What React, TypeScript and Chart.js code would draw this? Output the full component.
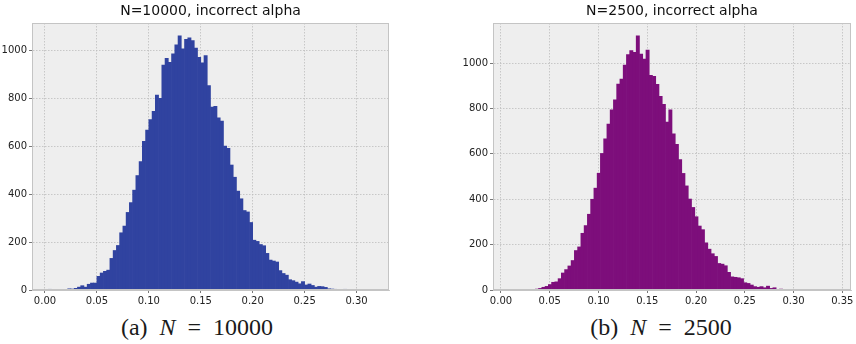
import React, { useEffect, useRef } from "react";
import { Chart, registerables } from "chart.js";

Chart.register(...registerables);

// ---- Data: histogram (a) N=10000 ----
const titleA = "N=10000, incorrect alpha";
const binStartA = 0.003125;
const binWidthA = 0.003125;
const countsA = [
  3, 0, 0, 0, 0, 1, 5, 4, 7, 12, 18, 12, 24, 29, 29,
  57, 71, 78, 83, 132, 165, 186, 239, 267, 324, 365, 417, 478, 536, 621,
  668, 712, 746, 814, 800, 939, 968, 951, 986, 1024, 1062, 1007, 1047, 1053, 1042,
  1010, 972, 949, 979, 854, 764, 767, 719, 705, 601, 592, 522, 471, 413, 381, 332, 326, 282,
  208, 203, 190, 185, 153, 125, 121, 117, 81, 69, 62, 43, 39, 33, 26, 35, 21, 25, 19, 12,
  15, 14, 11, 5, 4, 3, 1, 0, 3, 0, 0, 0, 0, 0, 0, 0, 1,
];
const xTicksA = [0, 0.05, 0.1, 0.15, 0.2, 0.25, 0.3];

// ---- Data: histogram (b) N=2500 ----
const titleB = "N=2500, incorrect alpha";
const binStartB = 0.0085;
const binWidthB = 0.003337;
const countsB = [
  1, 0, 0, 0, 0, 2, 0, 3, 4, 7, 12, 16, 24, 34, 36,
  50, 75, 90, 106, 130, 174, 190, 250, 284, 334, 400, 449, 515, 602, 666,
  731, 794, 838, 908, 930, 992, 1038, 1056, 1048, 1121, 1040, 1018, 1058, 946, 942,
  907, 854, 819, 740, 794, 688, 642, 575, 514, 459, 401, 364, 323, 282, 266,
  208, 180, 160, 148, 117, 114, 107, 78, 58, 56, 54, 50, 32, 29, 22,
  15, 12, 15, 10, 17, 7, 10, 3, 4, 3, 1, 3, 2, 0, 0,
  0, 3, 0, 0, 0, 0, 0, 0, 0, 1,
];
const xTicksB = [0, 0.05, 0.1, 0.15, 0.2, 0.25, 0.3, 0.35];

const yTicks = [0, 200, 400, 600, 800, 1000];

const captionA = { label: "(a)", n: "10000" };
const captionB = { label: "(b)", n: "2500" };

const framePlugin = {
  id: "frameBg",
  beforeDraw(chart: any) {
    const { ctx, chartArea: a } = chart;
    ctx.save();
    ctx.fillStyle = "#eeeeee";
    ctx.fillRect(a.left, a.top, a.right - a.left, a.bottom - a.top);
    ctx.restore();
  },
  afterDatasetsDraw(chart: any) {
    const { ctx, chartArea: a } = chart;
    ctx.save();
    ctx.strokeStyle = "#c4c4c4";
    ctx.lineWidth = 1;
    ctx.strokeRect(a.left + 0.5, a.top + 0.5, a.right - a.left - 1, a.bottom - a.top - 1);
    ctx.restore();
  },
};

type HistProps = {
  counts: number[];
  start: number;
  width: number;
  xTicks: number[];
  title: string;
  color: string;
  left: number;
  canvasW: number;
  yAxisW: number;
  padRight: number;
};

function Hist(p: HistProps) {
  const ref = useRef<HTMLCanvasElement | null>(null);
  useEffect(() => {
    if (!ref.current) return;
    const n = p.counts.length;
    const span = n * p.width;
    const xmin = p.start - 0.05 * span;
    const xmax = p.start + span + 0.05 * span;
    const ymax = Math.max(...p.counts) * 1.05;
    const tickFont = { family: "DejaVu Sans", size: 10 };
    const chart = new Chart(ref.current, {
      type: "bar",
      data: {
        datasets: [
          {
            data: p.counts.map((c, i) => ({ x: p.start + (i + 0.5) * p.width, y: c })),
            backgroundColor: p.color,
            borderWidth: 0,
            barPercentage: 1,
            categoryPercentage: 1,
          } as any,
        ],
      },
      options: {
        animation: false,
        responsive: false,
        maintainAspectRatio: false,
        layout: { padding: { left: 0, right: p.padRight, top: 0, bottom: 0 } },
        plugins: {
          legend: { display: false },
          tooltip: { enabled: false },
          title: {
            display: true,
            text: p.title,
            fullSize: false,
            color: "#111111",
            font: { family: "DejaVu Sans", size: 14, weight: "normal" },
            padding: { top: 3, bottom: 3.2 },
          },
        },
        scales: {
          x: {
            type: "linear",
            min: xmin,
            max: xmax,
            offset: false,
            grid: {
              offset: false,
              color: "#bdbdbd",
              lineWidth: 0.8,
              drawTicks: true,
              tickLength: 3,
              tickColor: "#555555",
              tickWidth: 0.8,
              tickBorderDash: [],
            },
            border: { display: true, color: "#c4c4c4", dash: [1.5, 1.5] },
            afterBuildTicks: (s: any) => {
              s.ticks = p.xTicks.map((v) => ({ value: v }));
            },
            afterFit: (s: any) => {
              s.height = 20;
            },
            ticks: {
              autoSkip: false,
              maxRotation: 0,
              padding: 2,
              color: "#222222",
              font: tickFont,
              callback: (v: any) => Number(v).toFixed(2),
            },
          },
          y: {
            type: "linear",
            min: 0,
            max: ymax,
            grid: {
              color: "#bdbdbd",
              lineWidth: 0.8,
              drawTicks: true,
              tickLength: 3,
              tickColor: "#555555",
              tickWidth: 0.8,
              tickBorderDash: [],
            },
            border: { display: true, color: "#c4c4c4", dash: [1.5, 1.5] },
            afterBuildTicks: (s: any) => {
              s.ticks = yTicks.map((v) => ({ value: v }));
            },
            afterFit: (s: any) => {
              s.width = p.yAxisW;
            },
            ticks: {
              padding: 2,
              color: "#222222",
              font: tickFont,
              callback: (v: any) => String(v),
            },
          },
        },
      } as any,
      plugins: [framePlugin],
    });
    return () => chart.destroy();
  }, []);
  return (
    <canvas
      ref={ref}
      width={p.canvasW}
      height={310}
      style={{ position: "absolute", left: p.left, top: 0, width: p.canvasW, height: 310 }}
    />
  );
}

function Caption({ cx, label, n }: { cx: number; label: string; n: string }) {
  return (
    <div
      style={{
        position: "absolute",
        left: cx - 150,
        top: 315,
        width: 300,
        textAlign: "center",
        fontFamily: "'Liberation Serif', serif",
        fontSize: 24,
        lineHeight: "24px",
        wordSpacing: 6,
        color: "#1a1a1a",
        whiteSpace: "nowrap",
      }}
    >
      {label} <i>N</i> = {n}
    </div>
  );
}

export default function App() {
  return (
    <div
      style={{
        position: "absolute",
        left: 0,
        top: 0,
        width: 856,
        height: 344,
        background: "#ffffff",
        overflow: "hidden",
      }}
    >
      <Hist
        counts={countsA}
        start={binStartA}
        width={binWidthA}
        xTicks={xTicksA}
        title={titleA}
        color="#3043a0"
        left={0}
        canvasW={400}
        yAxisW={32}
        padRight={11}
      />
      <Hist
        counts={countsB}
        start={binStartB}
        width={binWidthB}
        xTicks={xTicksB}
        title={titleB}
        color="#7d0e7b"
        left={430}
        canvasW={426}
        yAxisW={63}
        padRight={5}
      />
      <Caption cx={197} label={captionA.label} n={captionA.n} />
      <Caption cx={661} label={captionB.label} n={captionB.n} />
    </div>
  );
}
